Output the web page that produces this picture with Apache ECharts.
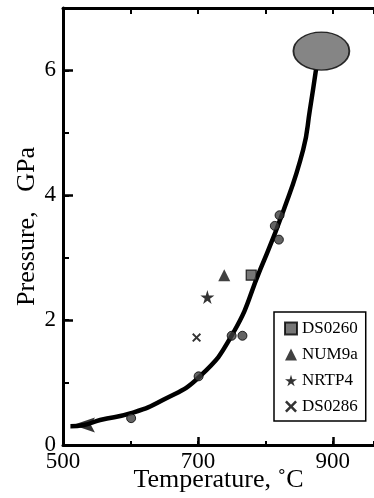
<!DOCTYPE html>
<html>
<head>
<meta charset="utf-8">
<title>P-T path</title>
<script src="https://cdn.jsdelivr.net/npm/echarts@6/dist/echarts.min.js"></script>
<style>
	html, body { margin: 0; padding: 0; background: #fff; }
	#chart_1 { width: 374px; height: 498px; }
</style>
</head>
<body>
<div id="chart_1"></div>
<script>
// values (Temperature C, Pressure GPa)
var pathCurve = [[511, 0.30], [531, 0.32], [555, 0.40], [601, 0.51], [648, 0.72], [702, 1.09], [752, 1.79],
	[792, 2.80], [827, 3.76], [856, 4.73], [866, 5.37], [875, 6.01]];
var pathArrow = [[531, 0.32]];
var peakField = [[883, 6.31]];
var circlePts = [[601, 0.43], [701, 1.10], [750, 1.75], [766, 1.75], [814, 3.51], [821, 3.68], [820, 3.29]];
var ds0260 = [[779, 2.72]];
var num9a = [[739, 2.72]];
var nrtp4 = [[714, 2.37]];
var ds0286 = [[698, 1.72]];
var legendNames = ['DS0260', 'NUM9a', 'NRTP4', 'DS0286'];
// the figure is cropped on the right, a little past 950 C
var xTicks = [500, 961];
var yTicks = [0, 7];

var serif = "'Liberation Serif', 'Times New Roman', serif";
var starPath = 'path://M50,0 L61,35 L98,35 L68,57 L79,91 L50,70 L21,91 L32,57 L2,35 L39,35 Z';
var crossPath = 'path://M0,15 L15,0 L50,35 L85,0 L100,15 L65,50 L100,85 L85,100 L50,65 L15,100 L0,85 L35,50 Z';
// arrow head pointing left, small notch at the back
var arrowPath = 'path://M0,50 L100,0 L82,50 L100,100 Z';

function makeChart() {
	var myChart = echarts.init(document.getElementById('chart_1'));
	var line = { color: '#000', width: 3 };
	var option = {
		backgroundColor: '#fff',
		animation: false,
		grid: { left: 63, top: 8, right: 0, bottom: 53, outerBoundsMode: 'none', containLabel: false },
		legend: {
			data: legendNames,
			orient: 'vertical',
			left: 274,
			top: 312,
			backgroundColor: '#fff',
			borderColor: '#000',
			borderWidth: 1.5,
			borderRadius: 0,
			padding: [8, 8, 6, 10],
			itemGap: 9,
			itemWidth: 12,
			itemHeight: 12,
			textStyle: { color: '#000', fontSize: 17, fontFamily: serif }
		},
		xAxis: [{
			type: 'value', min: xTicks[0], max: xTicks[1], interval: 200, position: 'bottom',
			name: 'Temperature, ˚C', nameLocation: 'middle', nameGap: 22, nameMoveOverlap: false,
			nameTextStyle: { color: '#000', fontSize: 26, fontFamily: serif },
			axisLine: { lineStyle: line },
			axisTick: { inside: true, length: 8, lineStyle: { color: '#000', width: 2.5 } },
			axisLabel: { color: '#000', fontSize: 23, fontFamily: serif, margin: 5, showMaxLabel: false },
			splitLine: { show: false }
		}, {
			type: 'value', min: xTicks[0], max: xTicks[1], interval: 100, position: 'bottom',
			axisLine: { show: false },
			axisTick: { inside: true, length: 4, lineStyle: { color: '#000', width: 2 } },
			axisLabel: { show: false },
			splitLine: { show: false }
		}, {
			type: 'value', min: xTicks[0], max: xTicks[1], interval: 100, position: 'top',
			axisLine: { lineStyle: line },
			axisTick: { inside: true, length: 6, lineStyle: { color: '#000', width: 2 } },
			axisLabel: { show: false },
			splitLine: { show: false }
		}],
		yAxis: [{
			type: 'value', min: yTicks[0], max: yTicks[1], interval: 2, position: 'left',
			name: 'Pressure,   GPa', nameLocation: 'middle', nameGap: 23, nameRotate: 90, nameMoveOverlap: false,
			nameTextStyle: { color: '#000', fontSize: 26, fontFamily: serif },
			axisLine: { lineStyle: line },
			axisTick: { inside: true, length: 10, lineStyle: { color: '#000', width: 2.5 } },
			axisLabel: { color: '#000', fontSize: 23, fontFamily: serif, margin: 7, showMaxLabel: false },
			splitLine: { show: false }
		}, {
			type: 'value', min: yTicks[0], max: yTicks[1], interval: 1, position: 'left',
			axisLine: { show: false },
			axisTick: { inside: true, length: 6, lineStyle: { color: '#000', width: 2 } },
			axisLabel: { show: false },
			splitLine: { show: false }
		}],
		series: [{
			type: 'line',
			data: pathCurve,
			smooth: 0.5,
			symbol: 'none',
			lineStyle: { color: '#000', width: 4.5 },
			z: 2
		}, {
			type: 'scatter',
			data: pathArrow,
			symbol: arrowPath,
			symbolSize: [22, 15],
			itemStyle: { color: '#000' },
			z: 3
		}, {
			type: 'scatter',
			data: peakField,
			symbol: 'circle',
			symbolSize: [56, 38],
			itemStyle: { color: '#666', borderColor: '#000', borderWidth: 1.5 },
			z: 4
		}, {
			type: 'scatter',
			data: circlePts,
			symbol: 'circle',
			symbolSize: 9,
			itemStyle: { color: '#3c3c3c', borderColor: '#000', borderWidth: 1 },
			z: 5
		}, {
			name: 'DS0260',
			type: 'scatter',
			data: ds0260,
			symbol: 'rect',
			symbolSize: 10,
			itemStyle: { color: '#555', borderColor: '#000', borderWidth: 1.2 },
			z: 5
		}, {
			name: 'NUM9a',
			type: 'scatter',
			data: num9a,
			symbol: 'triangle',
			symbolSize: 12,
			itemStyle: { color: '#111' },
			z: 5
		}, {
			name: 'NRTP4',
			type: 'scatter',
			data: nrtp4,
			symbol: starPath,
			symbolSize: 14,
			itemStyle: { color: '#000' },
			z: 5
		}, {
			name: 'DS0286',
			type: 'scatter',
			data: ds0286,
			symbol: crossPath,
			symbolSize: 9,
			itemStyle: { color: '#000' },
			z: 5
		}]
	};
	myChart.setOption(option);
	window.addEventListener('resize', function () {
		myChart.resize();
	});
}

makeChart();
</script>
</body>
</html>
